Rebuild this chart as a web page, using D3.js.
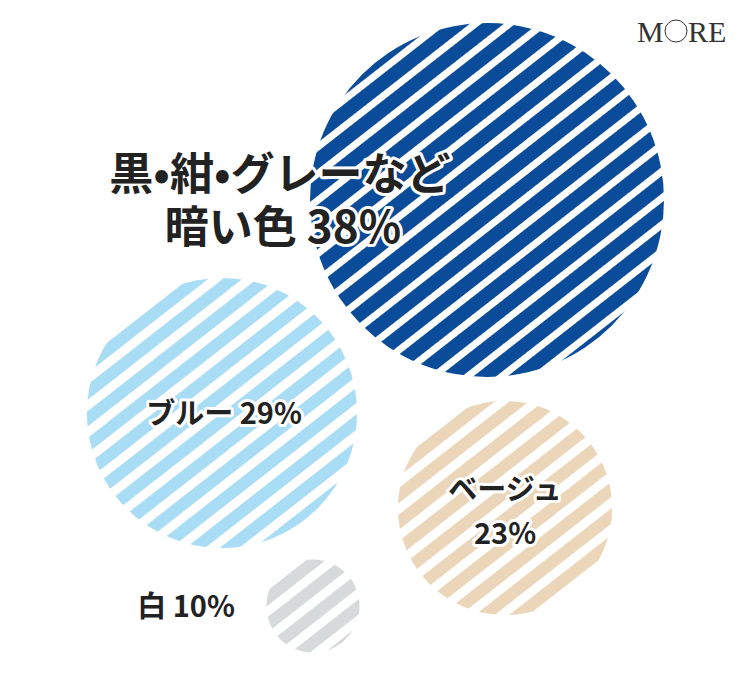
<!DOCTYPE html><html><head><meta charset="utf-8"><script src="https://cdn.jsdelivr.net/npm/d3@7"></script>
<style>body{margin:0;background:#fff}</style></head><body><script>
const categories=["黒・紺・グレーなど暗い色","ブルー","ベージュ","白"];
const values=[38,29,23,10];
const colors=["#0a4c99","#a9dcf5","#ebd6b9","#d6dada"];
const centers=[[487,200],[222,413],[505,508],[313,606]];
const W=750,H=683;
const svg=d3.select("body").append("svg").attr("width",W).attr("height",H);
const r=d3.scaleLinear().domain([0,38]).range([0,177]);
const defs=svg.append("defs");
colors.forEach((c,i)=>{
 const p=defs.append("pattern").attr("id","p"+i).attr("patternUnits","userSpaceOnUse")
  .attr("width",21).attr("height",21).attr("patternTransform","rotate(52)");
 p.append("rect").attr("width",21).attr("height",21).attr("fill","#fff");
 p.append("rect").attr("width",i==0?14:12).attr("height",21).attr("fill",c);
});
svg.selectAll("circle.b").data(values).join("circle").attr("cx",(d,i)=>centers[i][0]).attr("cy",(d,i)=>centers[i][1])
 .attr("r",d=>r(d)).attr("fill",(d,i)=>`url(#p${i})`);
const font="'Noto Sans CJK JP',sans-serif";
const labels=[
 {lines:["黒•紺•グレーなど","暗い色 38%"],xs:[280,283],ys:[190,243],size:44},
 {lines:["ブルー 29%"],xs:[224],ys:[424],size:29},
 {lines:["ベージュ","23%"],xs:[505,505],ys:[500,544],size:29},
 {lines:["白 10%"],xs:[186],ys:[617],size:29}];
labels.forEach((l,i)=>l.lines.forEach((t,j)=>{
 svg.append("text").attr("x",l.xs[j]).attr("y",l.ys[j]).attr("text-anchor","middle")
  .attr("font-family",font).attr("font-weight",700).attr("font-size",l.size).attr("fill","#222")
  .attr("stroke","#fff").attr("stroke-width",i==3?0:6).attr("stroke-linejoin","round").attr("paint-order","stroke").text(t);
}));
const lg=svg.append("g").attr("font-family","'Liberation Serif',serif").attr("font-size",30).attr("fill","#333");
lg.append("text").attr("x",637).attr("y",42).text("M");
lg.append("text").attr("x",688).attr("y",42).text("RE");
lg.append("circle").attr("cx",676).attr("cy",31).attr("r",11).attr("fill","none").attr("stroke","#333").attr("stroke-width",1);
</script></body></html>
